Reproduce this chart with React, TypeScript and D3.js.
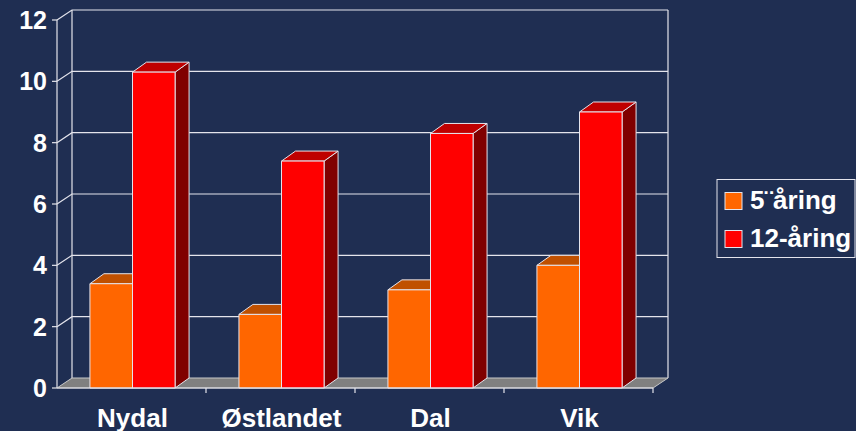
import React from 'react';
import * as d3 from 'd3';

const categories = ['Nydal', 'Østlandet', 'Dal', 'Vik'];
const seriesNames = ['5¨åring', '12-åring'];
const age5 = [3.4, 2.4, 3.2, 4.0];
const age12 = [10.3, 7.4, 8.3, 9.0];
const yTicks = [0, 2, 4, 6, 8, 10, 12];

const W = 856;
const H = 431;
const BG = '#1f2e52';
const LINE = '#e4e4ec';
const FONT = '"Liberation Sans", Arial, sans-serif';

// depth offset of the 3D box
const DX = 15;
const DY = -10;

const faceColors = [
  { front: '#ff6600', top: '#c05000', side: '#803300' },
  { front: '#ff0000', top: '#bf0000', side: '#800000' },
];

const App = () => {
  const seriesValues = [age5, age12];

  const y = d3.scaleLinear().domain([0, 12]).range([388, 20]);
  const x0 = d3.scaleBand<string>().domain(categories).range([57, 653]);
  const x1 = d3.scaleBand<string>()
    .domain(seriesNames)
    .range([1, x0.bandwidth() + 1])
    .paddingOuter(0.75);

  const left = x0.range()[0];
  const right = x0.range()[1];
  const y0 = y(0);
  const yTop = y(12);

  const bars: JSX.Element[] = [];
  categories.forEach((cat, ci) => {
    seriesNames.forEach((s, si) => {
      const v = seriesValues[si][ci];
      const bx = (x0(cat) as number) + (x1(s) as number);
      const bw = x1.bandwidth();
      const by = y(v);
      const c = faceColors[si];
      const dx = DX - 1;
      const dy = DY;
      bars.push(
        <g key={`${cat}-${s}`} stroke={LINE} strokeWidth={1} strokeLinejoin="round">
          <polygon
            points={`${bx + bw},${by} ${bx + bw + dx},${by + dy} ${bx + bw + dx},${y0 + dy} ${bx + bw},${y0}`}
            fill={c.side}
          />
          <polygon
            points={`${bx},${by} ${bx + dx},${by + dy} ${bx + bw + dx},${by + dy} ${bx + bw},${by}`}
            fill={c.top}
          />
          <rect x={bx} y={by} width={bw} height={y0 - by} fill={c.front} />
        </g>,
      );
    });
  });

  return (
    <svg
      width={W}
      height={H}
      style={{ position: 'absolute', left: 0, top: 0, display: 'block' }}
      fontFamily={FONT}
    >
      <rect x={0} y={0} width={W} height={H} fill={BG} />

      {/* back wall, side wall and gridlines */}
      <g stroke={LINE} strokeWidth={1.2} fill="none">
        {yTicks.filter((t) => t > 0).map((t) => (
          <polyline
            key={t}
            points={`${left},${y(t)} ${left + DX},${y(t) + DY} ${right + DX},${y(t) + DY}`}
          />
        ))}
        <line x1={left + DX} x2={left + DX} y1={yTop + DY} y2={y0 + DY} />
        <line x1={right + DX} x2={right + DX} y1={yTop + DY} y2={y0 + DY} />
        <line x1={left} x2={left} y1={yTop} y2={y0} />
      </g>

      {/* floor */}
      <polygon
        points={`${left},${y0} ${right},${y0} ${right + DX},${y0 + DY} ${left + DX},${y0 + DY}`}
        fill="#808080"
        stroke="#c8c8c8"
        strokeWidth={1}
      />

      {bars}

      {/* axes */}
      <g stroke={LINE} strokeWidth={1.2}>
        <line x1={left} x2={right} y1={y0} y2={y0} />
        {yTicks.map((t) => (
          <line key={t} x1={left - 5} x2={left} y1={y(t)} y2={y(t)} />
        ))}
        {categories.map((cat) => (
          <line
            key={cat}
            x1={(x0(cat) as number) + x0.bandwidth()}
            x2={(x0(cat) as number) + x0.bandwidth()}
            y1={y0}
            y2={y0 + 5}
          />
        ))}
      </g>

      <g fill="#ffffff" fontWeight="bold">
        {yTicks.map((t) => (
          <text key={t} x={47} y={y(t) + 9} textAnchor="end" fontSize={25}>{t}</text>
        ))}
        {categories.map((cat) => (
          <text
            key={cat}
            x={(x0(cat) as number) + x0.bandwidth() / 2 + 1}
            y={427}
            textAnchor="middle"
            fontSize={26}
          >
            {cat}
          </text>
        ))}
      </g>

      {/* legend */}
      <g>
        <rect x={717} y={179.5} width={138} height={78} fill="none" stroke={LINE} strokeWidth={1} />
        {seriesNames.map((s, i) => (
          <g key={s} transform={`translate(725, ${192.5 + i * 38})`}>
            <rect x={0} y={0} width={17} height={17} fill={faceColors[i].front} stroke={LINE} strokeWidth={1} />
            <text x={25} y={16.5} fill="#ffffff" fontWeight="bold" fontSize={26}>{s}</text>
          </g>
        ))}
      </g>
    </svg>
  );
};

export default App;
